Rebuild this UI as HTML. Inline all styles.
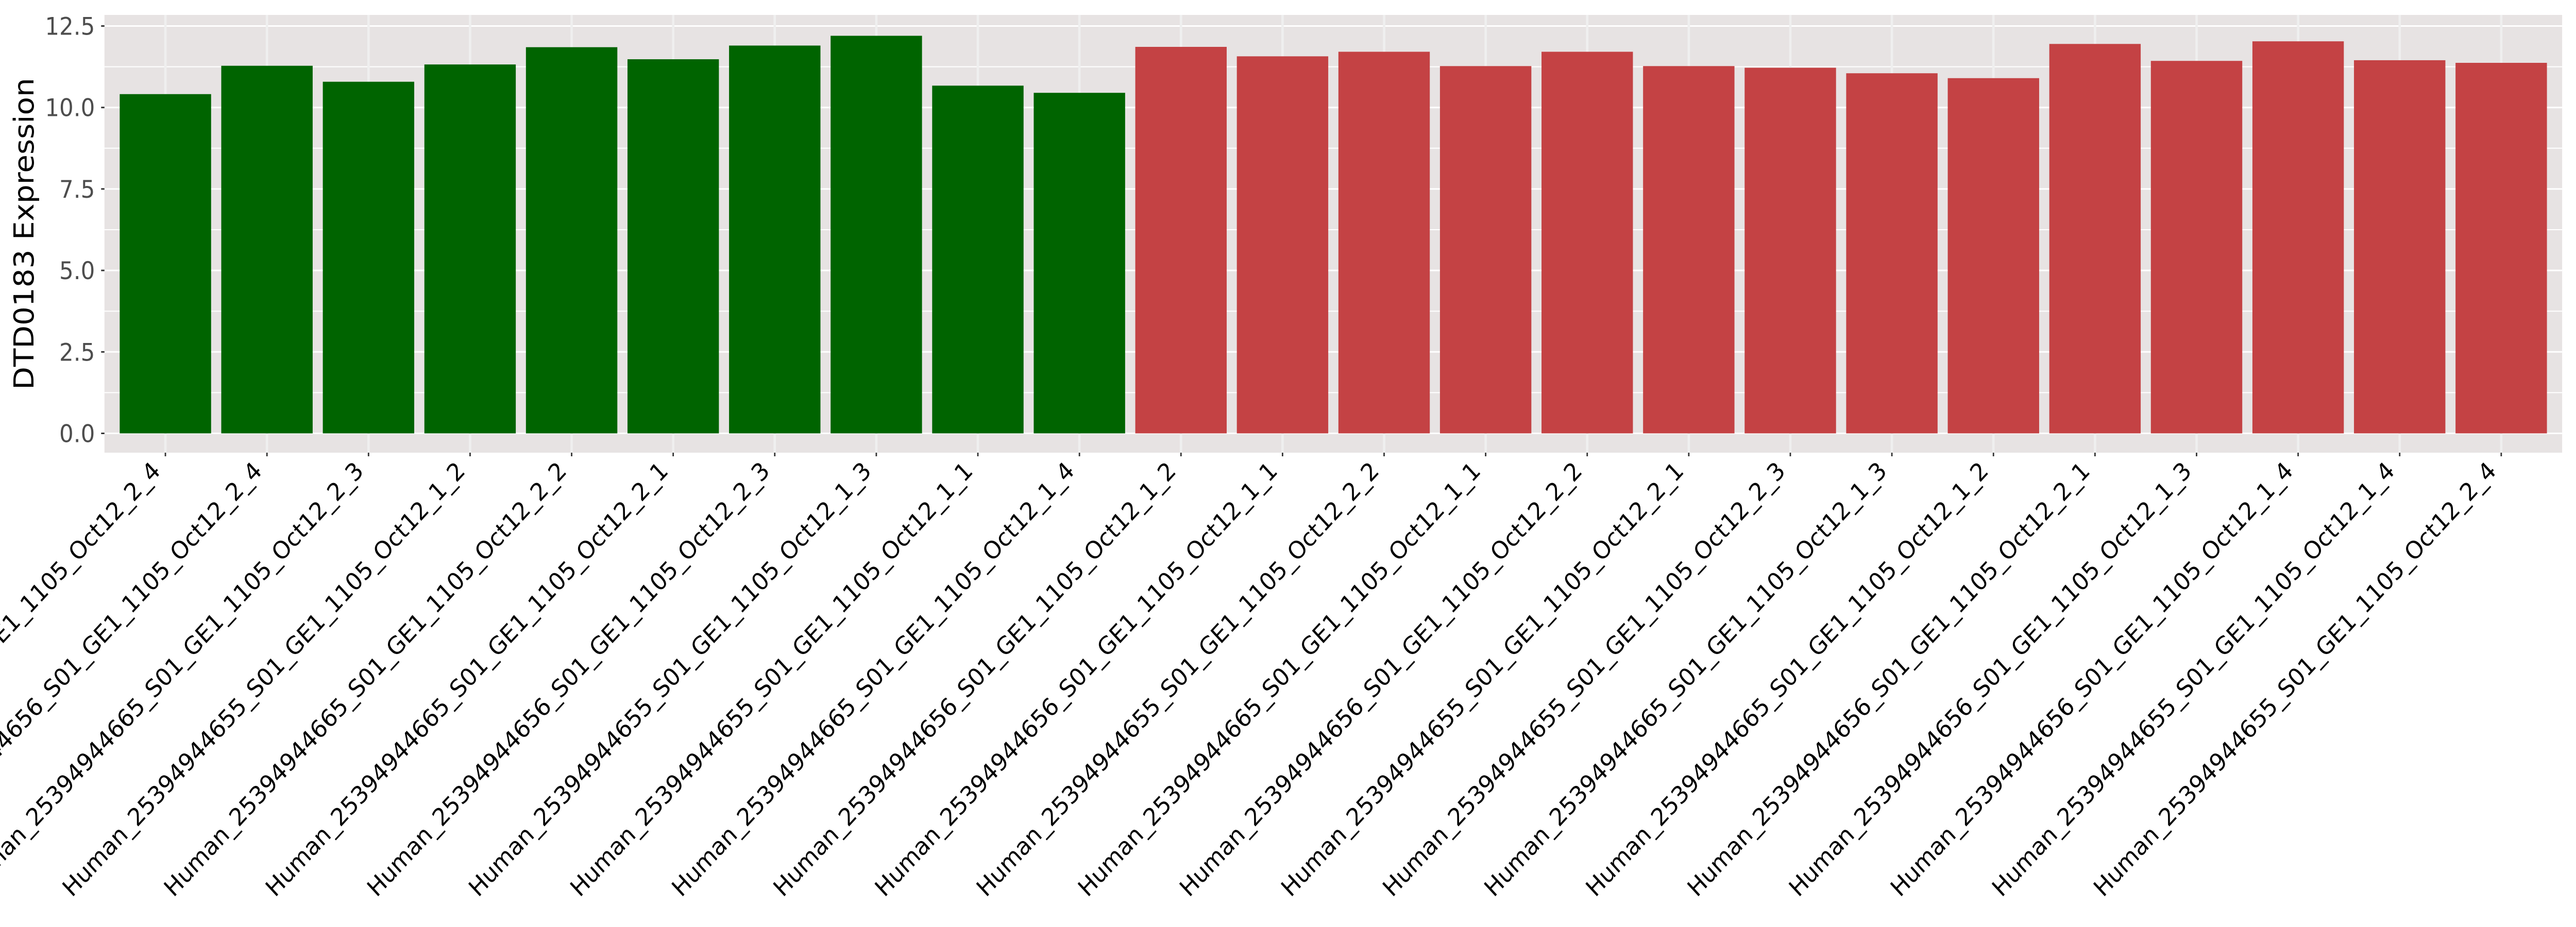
<!DOCTYPE html>
<html>
<head>
<meta charset="utf-8">
<style>
  html, body { margin: 0; padding: 0; background: #ffffff; width: 100%; height: 100%; overflow: hidden; }
  svg { display: block; width: 100vw; height: 100vh; }
  text { font-family: "DejaVu Sans", "Liberation Sans", sans-serif; }
</style>
</head>
<body>
<svg id="chart" viewBox="0 0 5400 1800" preserveAspectRatio="none" xmlns="http://www.w3.org/2000/svg">
  <rect x="219" y="29" width="5152" height="850" fill="#e7e3e3"></rect>
  <g id="grid"></g>
  <g id="bars"></g>
  <g id="yaxis"></g>
  <g id="xaxis"></g>
  <text x="0" y="0" transform="translate(70,454) rotate(-90)" text-anchor="middle" font-size="58" fill="#000">DTD0183 Expression</text>
</svg>
<script>
const categories = [
  "Human_25394944665_S01_GE1_1105_Oct12_2_4",
  "Human_25394944656_S01_GE1_1105_Oct12_2_4",
  "Human_25394944665_S01_GE1_1105_Oct12_2_3",
  "Human_25394944655_S01_GE1_1105_Oct12_1_2",
  "Human_25394944665_S01_GE1_1105_Oct12_2_2",
  "Human_25394944665_S01_GE1_1105_Oct12_2_1",
  "Human_25394944656_S01_GE1_1105_Oct12_2_3",
  "Human_25394944655_S01_GE1_1105_Oct12_1_3",
  "Human_25394944655_S01_GE1_1105_Oct12_1_1",
  "Human_25394944665_S01_GE1_1105_Oct12_1_4",
  "Human_25394944656_S01_GE1_1105_Oct12_1_2",
  "Human_25394944656_S01_GE1_1105_Oct12_1_1",
  "Human_25394944655_S01_GE1_1105_Oct12_2_2",
  "Human_25394944665_S01_GE1_1105_Oct12_1_1",
  "Human_25394944656_S01_GE1_1105_Oct12_2_2",
  "Human_25394944655_S01_GE1_1105_Oct12_2_1",
  "Human_25394944655_S01_GE1_1105_Oct12_2_3",
  "Human_25394944665_S01_GE1_1105_Oct12_1_3",
  "Human_25394944665_S01_GE1_1105_Oct12_1_2",
  "Human_25394944656_S01_GE1_1105_Oct12_2_1",
  "Human_25394944656_S01_GE1_1105_Oct12_1_3",
  "Human_25394944656_S01_GE1_1105_Oct12_1_4",
  "Human_25394944655_S01_GE1_1105_Oct12_1_4",
  "Human_25394944655_S01_GE1_1105_Oct12_2_4"
];
const values = [10.41, 11.28, 10.79, 11.32, 11.85, 11.48, 11.90, 12.20, 10.67, 10.45,
                11.86, 11.57, 11.71, 11.27, 11.71, 11.27, 11.22, 11.05, 10.90, 11.95,
                11.43, 12.03, 11.45, 11.37];
const groups = ["g1","g1","g1","g1","g1","g1","g1","g1","g1","g1",
                "g2","g2","g2","g2","g2","g2","g2","g2","g2","g2","g2","g2","g2","g2"];
const yTicks = [0, 2.5, 5, 7.5, 10, 12.5];
const yTickLabels = ["0.0", "2.5", "5.0", "7.5", "10.0", "12.5"];
const groupColors = { g1: "#006400", g2: "#c44244" };

const NS = "http://www.w3.org/2000/svg";
const panelLeft = 219, panelRight = 5371, panelTop = 29, panelBottom = 879;
const yZeroPx = 841.5, pxPerUnit = 63.28;
function yScale(v) { return yZeroPx - v * pxPerUnit; }
const band = (panelRight - panelLeft) / (categories.length + 0.2);
function xScale(i) { return panelLeft + band * (i + 0.6); }
const barWidth = band * 0.9;

function mk(tag, attrs) {
  const el = document.createElementNS(NS, tag);
  for (const k in attrs) el.setAttribute(k, attrs[k]);
  return el;
}

const grid = document.getElementById('grid');
for (let i = 0; i < yTicks.length - 1; i++) {
  const v = (yTicks[i] + yTicks[i + 1]) / 2;
  const ln = mk('line', { x1: panelLeft, x2: panelRight, y1: yScale(v), y2: yScale(v), stroke: '#ffffff', 'stroke-width': 2 });
  
  
  grid.appendChild(ln);
}
yTicks.forEach(v => {
  const ln = mk('line', { x1: panelLeft, x2: panelRight, y1: yScale(v), y2: yScale(v), stroke: '#ffffff', 'stroke-width': 3 });
  
  
  grid.appendChild(ln);
});
categories.forEach((c, i) => {
  const x = xScale(i);
  const ln = mk('line', { x1: x, x2: x, y1: panelTop, y2: panelBottom, stroke: '#efefef', 'stroke-width': 5 });
  
  
  grid.appendChild(ln);
});

const bars = document.getElementById('bars');
values.forEach((v, i) => {
  const x = xScale(i) - barWidth / 2;
  const r = mk('rect', { x: x, y: yScale(v), width: barWidth, height: yScale(0) - yScale(v), fill: groupColors[groups[i]] });
  
  
  bars.appendChild(r);
});

const yaxis = document.getElementById('yaxis');
yTicks.forEach((v, i) => {
  const y = yScale(v);
  const t = mk('line', { x1: 212, x2: 219, y1: y, y2: y, stroke: '#333333', 'stroke-width': 3 });
  
  
  yaxis.appendChild(t);
  const lb = mk('text', { x: 199, y: y + 17, 'text-anchor': 'end', 'font-size': 47, fill: '#4d4d4d' });
  lb.textContent = yTickLabels[i];
  
  
  yaxis.appendChild(lb);
});

const xaxis = document.getElementById('xaxis');
categories.forEach((c, i) => {
  const x = xScale(i);
  const t = mk('line', { x1: x, x2: x, y1: panelBottom, y2: panelBottom + 7, stroke: '#333333', 'stroke-width': 3 });
  
  
  xaxis.appendChild(t);
  const bx = x - 8, by = 917;
  const lb = mk('text', { x: bx, y: by, 'text-anchor': 'end', 'font-size': 47, fill: '#000000', transform: 'rotate(-45 ' + bx + ' ' + by + ')' });
  lb.textContent = c;
  
  
  xaxis.appendChild(lb);
});
</script>
</body>
</html>
